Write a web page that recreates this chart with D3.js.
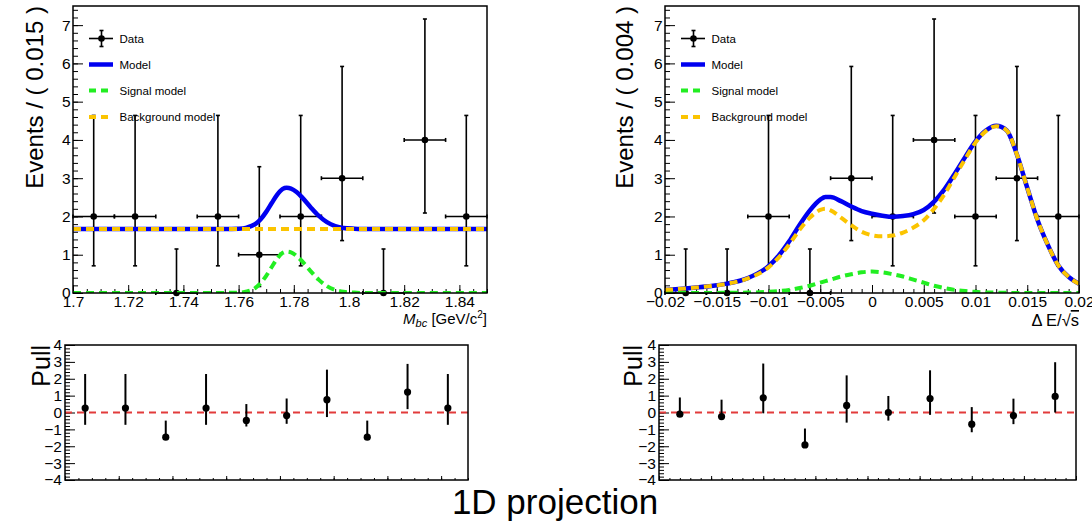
<!DOCTYPE html>
<html><head><meta charset="utf-8">
<script src="https://cdn.jsdelivr.net/npm/d3@7"></script>
<style>body{margin:0;background:#fff}svg{display:block}</style>
</head><body>
<svg id="c" width="1092" height="526"></svg>
<script>
// ---------- DATA ----------
const yTicks = [0,1,2,3,4,5,6,7];
const pullTicks = [-4,-3,-2,-1,0,1,2,3,4];
const mbcTicks = [1.70,1.72,1.74,1.76,1.78,1.80,1.82,1.84];
const deTicks = [-0.02,-0.015,-0.01,-0.005,0,0.005,0.01,0.015,0.02];

const mbcCenters = [1.7075,1.7225,1.7375,1.7525,1.7675,1.7825,1.7975,1.8125,1.8275,1.8425];
const mbcCounts  = [2,2,0,2,1,2,3,0,4,2];
const mbcErrLo   = [0.71,0.71,0,0.71,0.17,0.71,1.37,0,2.09,0.71];
const mbcErrHi   = [4.64,4.64,1.15,4.64,3.30,4.64,5.92,1.15,7.16,4.64];
const mbcHalfBin = 0.0075;

const deCenters = [-0.018,-0.014,-0.010,-0.006,-0.002,0.002,0.006,0.010,0.014,0.018];
const deCounts  = [0,0,2,0,3,2,4,2,3,2];
const deErrLo   = [0,0,0.71,0,1.37,0.71,2.09,0.71,1.37,0.71];
const deErrHi   = [1.15,1.15,4.64,1.15,5.92,4.64,7.16,4.64,5.92,4.64];
const deHalfBin = 0.002;

const mbcCurveX = [1.700,1.750,1.755,1.760,1.763,1.766,1.768,1.770,1.772,1.774,1.776,1.7774,1.779,1.781,1.783,1.786,1.789,1.792,1.795,1.798,1.802,1.806,1.850];
const mbcSignal = [0,0,0.002,0.01,0.04,0.13,0.26,0.45,0.68,0.90,1.05,1.08,1.06,0.97,0.83,0.58,0.35,0.18,0.08,0.03,0.01,0,0];
const mbcModel  = [1.67,1.67,1.67,1.68,1.71,1.80,1.93,2.12,2.35,2.57,2.72,2.75,2.73,2.64,2.50,2.25,2.02,1.85,1.75,1.70,1.68,1.67,1.67];
const mbcBkgX   = [1.70,1.85];
const mbcBkg    = [1.67,1.67];

const deCurveX = [-0.020,-0.018,-0.016,-0.014,-0.012,-0.010,-0.009,-0.008,-0.007,-0.006,-0.005,-0.0045,-0.004,-0.003,-0.002,-0.001,0,0.001,0.002,0.003,0.004,0.005,0.006,0.007,0.008,0.009,0.010,0.011,0.012,0.013,0.014,0.015,0.016,0.017,0.018,0.019,0.020];
const deBkg    = [0.08,0.12,0.17,0.24,0.38,0.67,0.93,1.27,1.65,1.97,2.17,2.20,2.16,1.97,1.77,1.60,1.51,1.48,1.50,1.58,1.71,1.90,2.20,2.58,3.04,3.50,3.93,4.23,4.36,4.25,3.62,2.75,1.90,1.25,0.72,0.42,0.24];
const deSignal = [0,0,0,0.005,0.01,0.03,0.05,0.08,0.13,0.19,0.27,0.31,0.35,0.43,0.49,0.54,0.56,0.54,0.49,0.43,0.35,0.27,0.19,0.13,0.08,0.05,0.03,0.015,0.01,0.005,0,0,0,0,0,0,0];
const deModel  = [0.08,0.12,0.17,0.245,0.39,0.70,0.98,1.35,1.78,2.16,2.44,2.51,2.51,2.40,2.26,2.14,2.07,2.02,1.99,2.01,2.06,2.17,2.39,2.71,3.12,3.55,3.96,4.245,4.37,4.255,3.62,2.75,1.90,1.25,0.72,0.42,0.24];

const mbcPull   = [0.26,0.26,-1.46,0.26,-0.47,-0.18,0.76,-1.46,1.21,0.26];
const mbcPullLo = [-0.73,-0.73,-1.46,-0.73,-0.83,-0.67,-0.27,-1.46,0.20,-0.73];
const mbcPullHi = [2.28,2.28,-0.48,2.28,0.50,0.83,2.54,-0.48,2.88,2.28];

const dePull   = [-0.10,-0.24,0.87,-1.92,0.42,0.00,0.83,-0.69,-0.18,0.95];
const dePullLo = [-0.10,-0.24,-0.05,-1.92,-0.60,-0.48,-0.14,-1.17,-0.69,0.00];
const dePullHi = [0.89,0.76,2.90,-0.95,2.20,0.98,2.50,0.32,0.82,2.98];

const legendLabels = ["Data","Model","Signal model","Background model"];

// ---------- STYLE ----------
const FONT = '"Liberation Sans", Arial, Helvetica, sans-serif';
const BLUE = "#0000f0", GREEN = "#22ee22", ORANGE = "#fbc400", RED = "#e23b3b";
const svg = d3.select("#c");

function axes(g, x, y, o) {
  const styl = s => { s.select(".domain").remove(); s.attr("font-family", FONT).attr("font-size", o.fs); s.selectAll("text").attr("fill", "#000"); s.selectAll("line").attr("stroke","#000"); };
  g.append("g").attr("transform", `translate(0,${o.y1})`)
    .call(d3.axisBottom(x).tickValues(o.xMajor).tickSize(-o.xMaj).tickPadding(3).tickFormat(o.xLabels ? o.xFmt : () => ""))
    .call(styl);
  g.append("g").attr("transform", `translate(0,${o.y1})`)
    .call(d3.axisBottom(x).tickValues(o.xMinor).tickSize(-o.xMin).tickFormat(() => ""))
    .call(styl);
  g.append("g").attr("transform", `translate(${o.x0},0)`)
    .call(d3.axisLeft(y).tickValues(o.yMajor).tickSize(-o.yMaj).tickPadding(o.yPad).tickFormat(d3.format("d")))
    .call(styl);
  g.append("g").attr("transform", `translate(${o.x0},0)`)
    .call(d3.axisLeft(y).tickValues(o.yMinor).tickSize(-o.yMin).tickFormat(() => ""))
    .call(styl);
}

function topPanel(p) {
  const g = svg.append("g");
  const x = d3.scaleLinear().domain(p.xDom).range([p.x0, p.x1]);
  const y = d3.scaleLinear().domain([0, 7.5]).range([p.y1, p.y0]);
  const cid = "clip" + p.id;
  svg.append("clipPath").attr("id", cid).append("rect")
    .attr("x", p.x0).attr("y", p.y0 - 2).attr("width", p.x1 - p.x0).attr("height", p.y1 - p.y0 + 2);

  axes(g, x, y, {x0: p.x0, y1: p.y1, xMajor: p.xTicks, xMinor: p.xMinor, xMaj: 8, xMin: 4,
    xLabels: true, xFmt: p.xFmt, yMajor: yTicks, yMinor: d3.range(0, 7.5, 0.2), yMaj: 10, yMin: 5, yPad: 2.5, fs: 15.5});

  // data
  const dg = g.append("g").attr("stroke", "#000").attr("stroke-width", 1.6);
  p.centers.forEach((c, i) => {
    const cx = x(c), cy = y(p.counts[i]);
    dg.append("line").attr("x1", cx).attr("x2", cx).attr("y1", y(p.lo[i])).attr("y2", y(p.hi[i]));
    dg.append("line").attr("x1", cx - 2).attr("x2", cx + 2).attr("y1", y(p.hi[i])).attr("y2", y(p.hi[i]));
    if (p.lo[i] > 0) dg.append("line").attr("x1", cx - 2).attr("x2", cx + 2).attr("y1", y(p.lo[i])).attr("y2", y(p.lo[i]));
    const xl = x(c - p.half), xr = x(c + p.half);
    dg.append("line").attr("x1", xl).attr("x2", xr).attr("y1", cy).attr("y2", cy);
    dg.append("line").attr("x1", xl).attr("x2", xl).attr("y1", cy - 2).attr("y2", cy + 2);
    dg.append("line").attr("x1", xr).attr("x2", xr).attr("y1", cy - 2).attr("y2", cy + 2);
    dg.append("circle").attr("cx", cx).attr("cy", cy).attr("r", 3.3).attr("fill", "#000").attr("stroke", "none");
  });

  const line = (xs, ys) => d3.line().x((d, i) => x(xs[i])).y(d => y(d)).curve(d3.curveMonotoneX)(ys);
  const cg = g.append("g").attr("clip-path", `url(#${cid})`).attr("fill", "none");
  cg.append("path").attr("d", line(p.curveX, p.model)).attr("stroke", BLUE).attr("stroke-width", 4.5);
  cg.append("path").attr("d", line(p.curveX, p.signal)).attr("stroke", GREEN).attr("stroke-width", 4).attr("stroke-dasharray", "8 5");
  cg.append("path").attr("d", line(p.bkgX, p.bkg)).attr("stroke", ORANGE).attr("stroke-width", 4).attr("stroke-dasharray", "8 5");

  g.append("rect").attr("x", p.x0).attr("y", p.y0).attr("width", p.x1 - p.x0).attr("height", p.y1 - p.y0)
    .attr("fill", "none").attr("stroke", "#000").attr("stroke-width", 1.5);

  // legend
  const lx = p.x0 + 16, lg = g.append("g");
  const rows = [38.5, 64.5, 90.5, 117];
  lg.append("line").attr("x1", lx).attr("x2", lx + 24).attr("y1", rows[0]).attr("y2", rows[0]).attr("stroke", "#000").attr("stroke-width", 1.6);
  lg.append("line").attr("x1", lx + 12.5).attr("x2", lx + 12.5).attr("y1", rows[0] - 8).attr("y2", rows[0] + 8).attr("stroke", "#000").attr("stroke-width", 1.6);
  [[-8],[8]].forEach(([d]) => lg.append("line").attr("x1", lx + 10.5).attr("x2", lx + 14.5).attr("y1", rows[0] + d).attr("y2", rows[0] + d).attr("stroke", "#000").attr("stroke-width", 1.6));
  lg.append("circle").attr("cx", lx + 12.5).attr("cy", rows[0]).attr("r", 3.3).attr("fill", "#000");
  lg.append("line").attr("x1", lx).attr("x2", lx + 24).attr("y1", rows[1]).attr("y2", rows[1]).attr("stroke", BLUE).attr("stroke-width", 4.5);
  lg.append("line").attr("x1", lx).attr("x2", lx + 24).attr("y1", rows[2]).attr("y2", rows[2]).attr("stroke", GREEN).attr("stroke-width", 4).attr("stroke-dasharray", "7 5");
  lg.append("line").attr("x1", lx).attr("x2", lx + 24).attr("y1", rows[3]).attr("y2", rows[3]).attr("stroke", ORANGE).attr("stroke-width", 4).attr("stroke-dasharray", "7 5");
  legendLabels.forEach((t, i) => lg.append("text").attr("x", lx + 30.5).attr("y", rows[i]).attr("dy", "0.36em")
    .attr("font-family", FONT).attr("font-size", 11.5).attr("fill", "#000").text(t));

  // y title
  g.append("text").attr("transform", `translate(${p.yTitleX},${p.y0}) rotate(-90)`).attr("text-anchor", "end")
    .attr("font-family", FONT).attr("font-size", 24).attr("fill", "#000").text(p.yTitle);
  return x;
}

function pullPanel(p) {
  const g = svg.append("g");
  const x = d3.scaleLinear().domain(p.xDom).range([p.x0, p.x1]);
  const y = d3.scaleLinear().domain([-4, 4]).range([p.y1, p.y0]);
  axes(g, x, y, {x0: p.x0, y1: p.y1, xMajor: p.xTicks, xMinor: p.xMinor, xMaj: 4, xMin: 2,
    xLabels: false, yMajor: pullTicks, yMinor: d3.range(-4, 4.01, 0.2), yMaj: 10, yMin: 5, yPad: 3, fs: 15.5});
  g.append("line").attr("x1", p.x0).attr("x2", p.x1).attr("y1", y(0)).attr("y2", y(0))
    .attr("stroke", RED).attr("stroke-width", 2).attr("stroke-dasharray", "7 5");
  p.centers.forEach((c, i) => {
    g.append("line").attr("x1", x(c)).attr("x2", x(c)).attr("y1", y(p.lo[i])).attr("y2", y(p.hi[i]))
      .attr("stroke", "#000").attr("stroke-width", 2);
    g.append("circle").attr("cx", x(c)).attr("cy", y(p.pull[i])).attr("r", 3.6).attr("fill", "#000");
  });
  g.append("rect").attr("x", p.x0).attr("y", p.y0).attr("width", p.x1 - p.x0).attr("height", p.y1 - p.y0)
    .attr("fill", "none").attr("stroke", "#000").attr("stroke-width", 1.5);
  g.append("text").attr("transform", `translate(${p.titleX},${p.y0}) rotate(-90)`).attr("text-anchor", "end")
    .attr("font-family", FONT).attr("font-size", 25).attr("fill", "#000").text("Pull");
}

const mbcMinor = d3.range(1.70, 1.8501, 0.005);
const deMinor = d3.range(-0.02, 0.02001, 0.001);

topPanel({id: "L", x0: 73, x1: 487, y0: 6, y1: 293, xDom: [1.70, 1.85], xTicks: mbcTicks, xMinor: mbcMinor,
  xFmt: d3.format(".2~f"), centers: mbcCenters, counts: mbcCounts, lo: mbcErrLo, hi: mbcErrHi, half: mbcHalfBin,
  curveX: mbcCurveX, model: mbcModel, signal: mbcSignal, bkgX: mbcBkgX, bkg: mbcBkg,
  yTitle: "Events / ( 0.015 )", yTitleX: 43});
topPanel({id: "R", x0: 665, x1: 1079, y0: 6, y1: 293, xDom: [-0.02, 0.02], xTicks: deTicks, xMinor: deMinor,
  xFmt: d3.format(".3~f"), centers: deCenters, counts: deCounts, lo: deErrLo, hi: deErrHi, half: deHalfBin,
  curveX: deCurveX, model: deModel, signal: deSignal, bkgX: deCurveX, bkg: deBkg,
  yTitle: "Events / ( 0.004 )", yTitleX: 633});

pullPanel({x0: 65, x1: 468, y0: 345, y1: 480, xDom: [1.70, 1.85], xTicks: mbcTicks, xMinor: mbcMinor,
  centers: mbcCenters, pull: mbcPull, lo: mbcPullLo, hi: mbcPullHi, titleX: 50});
pullPanel({x0: 659, x1: 1076, y0: 345, y1: 480, xDom: [-0.02, 0.02], xTicks: deTicks, xMinor: deMinor,
  centers: deCenters, pull: dePull, lo: dePullLo, hi: dePullHi, titleX: 642});

// x axis titles
const t1 = svg.append("text").attr("x", 487).attr("y", 324).attr("text-anchor", "end")
  .attr("font-family", FONT).attr("font-size", 15).attr("fill", "#000");
t1.append("tspan").attr("font-style", "italic").text("M");
t1.append("tspan").attr("font-style", "italic").attr("font-size", 11).attr("dy", 3).text("bc");
t1.append("tspan").attr("dy", -3).text(" [GeV/c");
t1.append("tspan").attr("font-size", 10).attr("dy", -6).text("2");
t1.append("tspan").attr("dy", 6).text("]");

const t2 = svg.append("text").attr("x", 1079).attr("y", 326).attr("text-anchor", "end")
  .attr("font-family", FONT).attr("font-size", 16.5).attr("fill", "#000");
t2.append("tspan").text("Δ E/√");
t2.append("tspan").attr("text-decoration", "overline").style("text-decoration", "overline").text("s");

svg.append("text").attr("x", 555).attr("y", 514).attr("text-anchor", "middle")
  .attr("font-family", FONT).attr("font-size", 35).attr("fill", "#000").text("1D projection");
</script>
</body></html>
